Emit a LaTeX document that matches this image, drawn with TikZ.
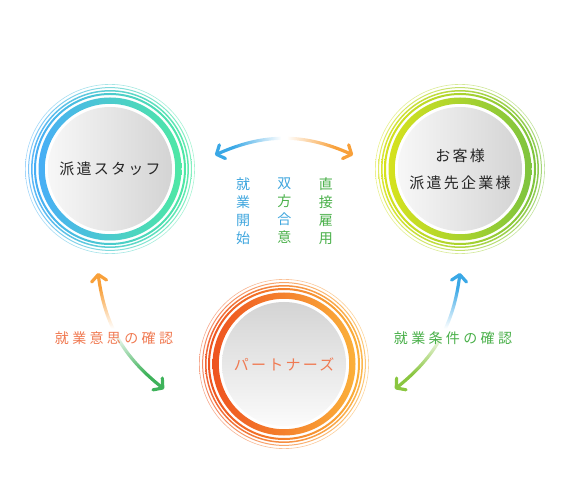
\documentclass[tikz,border=0pt]{standalone}
\usepackage{fontspec}
\newfontfamily\jp[LetterSpace=15]{Noto Sans CJK JP}
\newfontfamily\jpwide[LetterSpace=24]{Noto Sans CJK JP}
\usetikzlibrary{positioning,arrows.meta,fadings}

\definecolor{staffL}{HTML}{48AEF6}
\definecolor{staffR}{HTML}{4EE8A4}
\definecolor{clientL}{HTML}{D6E21E}
\definecolor{clientR}{HTML}{7EC43E}
\definecolor{partnerL}{HTML}{EE5320}
\definecolor{partnerR}{HTML}{FBB03A}
\definecolor{skyText}{HTML}{3FA6DE}
\definecolor{leafText}{HTML}{4AB04A}
\definecolor{coralText}{HTML}{F07A52}
\definecolor{arrowBlue}{HTML}{3AA8E6}
\definecolor{arrowOrange}{HTML}{F8A03A}
\definecolor{arrowGreen}{HTML}{3EB25A}
\definecolor{arrowLime}{HTML}{8AC640}

% fadings: solid on one side, gone by the middle
\begin{tikzfadingfrompicture}[name=keepW]
  \fill[transparent!100] (-50bp,-50bp) rectangle (50bp,50bp);
  \fill[transparent!0] (-50bp,-50bp) rectangle (-18bp,50bp);
  \shade[left color=transparent!0, right color=transparent!100] (-18bp,-50bp) rectangle (-1bp,50bp);
\end{tikzfadingfrompicture}
\begin{tikzfadingfrompicture}[name=keepE]
  \fill[transparent!100] (-50bp,-50bp) rectangle (50bp,50bp);
  \fill[transparent!0] (18bp,-50bp) rectangle (50bp,50bp);
  \shade[left color=transparent!100, right color=transparent!0] (1bp,-50bp) rectangle (18bp,50bp);
\end{tikzfadingfrompicture}
\begin{tikzfadingfrompicture}[name=keepN]
  \fill[transparent!100] (-50bp,-50bp) rectangle (50bp,50bp);
  \fill[transparent!0] (-50bp,18bp) rectangle (50bp,50bp);
  \shade[top color=transparent!0, bottom color=transparent!100] (-50bp,1bp) rectangle (50bp,18bp);
\end{tikzfadingfrompicture}
\begin{tikzfadingfrompicture}[name=keepS]
  \fill[transparent!100] (-50bp,-50bp) rectangle (50bp,50bp);
  \fill[transparent!0] (-50bp,-50bp) rectangle (50bp,-18bp);
  \shade[top color=transparent!100, bottom color=transparent!0] (-50bp,-18bp) rectangle (50bp,-1bp);
\end{tikzfadingfrompicture}

\tikzset{
  hub/.style={circle, minimum size=124pt, inner sep=0pt, align=center,
    font=\jp\fontsize{15}{27}\selectfont},
  link/.style={line width=3.2pt, line cap=round,
    {Straight Barb[round,length=6.5pt,width=15pt]}-{Straight Barb[round,length=6.5pt,width=15pt]}},
  vtext/.style={inner sep=0pt, align=center, font=\jp\fontsize{14}{18}\selectfont},
  note/.style={inner sep=0pt, font=\jpwide\fontsize{14}{16}\selectfont}
}

\begin{document}
\begin{tikzpicture}[x=1pt, y=1pt]
\useasboundingbox (0,0) rectangle (569,500);

% Circles
\node[hub, left color=gray!6, right color=gray!34, text=black!85] (staff) at (110,331) {派遣スタッフ};
\node[hub, left color=gray!6, right color=gray!34, text=black!85] (client) at (460,331) {お客様\\派遣先企業様};
\node[hub, top color=gray!34, bottom color=gray!3, text=coralText] (partner) at (284,136) {パートナーズ};

% Rings
\foreach \n/\a/\b in {staff/staffL/staffR, client/clientL/clientR, partner/partnerL/partnerR} {
  \path[even odd rule, left color=\a, right color=\b] (\n.center) circle (71.5) circle (65.2);
  \foreach \r/\w/\o in {75/2.0/1, 78.2/1.5/.9, 81.4/1.0/.7, 84.6/.6/.5}
    \path[even odd rule, left color=\a, right color=\b, opacity=\o]
      (\n.center) circle ({\r+\w/2}) circle ({\r-\w/2});
}

% Arrow ends
\coordinate (topL) at (215,345);
\coordinate (topR) at (353,345);
\coordinate (leftT) at (98,227);
\coordinate (leftB) at (164,111);
\coordinate (rightT) at (460,227);
\coordinate (rightB) at (395,111);

% Connections
\draw[link, arrowBlue, path fading=keepW] (topL) to[bend left=24] (topR);
\draw[link, arrowOrange, path fading=keepE] (topL) to[bend left=24] (topR);
\draw[link, arrowOrange, path fading=keepN] (leftT) to[bend right=22] (leftB);
\draw[link, arrowGreen, path fading=keepS] (leftT) to[bend right=22] (leftB);
\draw[link, arrowBlue, path fading=keepN] (rightT) to[bend left=22] (rightB);
\draw[link, arrowLime, path fading=keepS] (rightT) to[bend left=22] (rightB);

% Labels
\node[vtext, text=skyText] (start) at (243,289) {就\\業\\開\\始};
\node[vtext, right=27pt of start] (agree) {\textcolor{skyText}{双}\\\textcolor{leafText}{方}\\\textcolor{skyText}{合}\\\textcolor{leafText}{意}};
\node[vtext, text=leafText, right=27pt of agree] (hire) {直\\接\\雇\\用};
\node[note, text=coralText] (intent) at (114,162) {就業意思の確認};
\node[note, text=leafText] (terms) at (453,162) {就業条件の確認};
\end{tikzpicture}
\end{document}
